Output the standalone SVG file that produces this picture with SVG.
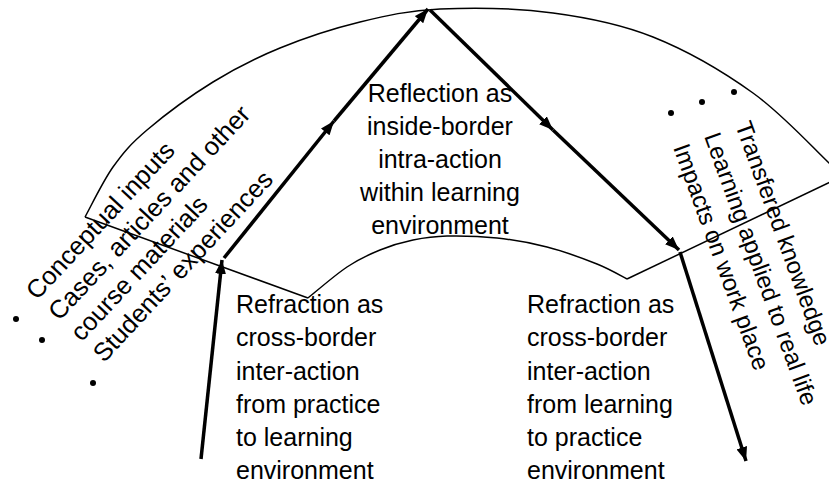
<svg xmlns="http://www.w3.org/2000/svg" width="829" height="484" viewBox="0 0 829 484">
  <style>
    .shape { fill: none; stroke: #000; stroke-width: 1.5; stroke-linejoin: miter; }
    .arrow { fill: none; stroke: #000; stroke-width: 3.5; stroke-linecap: butt; marker-end: url(#head); }
    .t { font-family: "Liberation Sans", Arial, sans-serif; font-size: 25px; fill: #000; }
    .r { font-family: "Liberation Sans", Arial, sans-serif; font-size: 25.5px; fill: #000; }
    .q { font-family: "Liberation Sans", Arial, sans-serif; font-size: 24px; fill: #000; }
    .dot { fill: #000; }
  </style>
  <defs>
    <marker id="head" markerUnits="userSpaceOnUse" markerWidth="15" markerHeight="11" refX="14" refY="5.5" orient="auto">
      <path d="M0,0 L14,5.5 L0,11 Z" fill="#000"/>
    </marker>
  </defs>
  <rect width="829" height="484" fill="#fff"/>

  <g id="arch">
    <path class="shape" d="M85,217 C89.7,208.7 102.7,181.5 113,167 C123.3,152.5 130.3,144.2 147,130 C163.7,115.8 190.8,95.7 213,82 C235.2,68.3 255.5,58 280,48 C304.5,38 333.3,28.5 360,22 C386.7,15.5 407.8,10.5 440,9 C472.2,7.5 517.5,8.3 553,13 C588.5,17.7 619.7,23.7 653,37 C686.3,50.3 723.7,72 753,93 C782.3,114 812.8,147.7 829,163 L843,176"/>
    <path class="shape" d="M308,298 C314.5,292.8 335,275 347,267 C359,259 369,254.5 380,250 C391,245.5 401.8,242.3 413,240 C424.2,237.7 433,236.3 447,236 C461,235.7 480.3,236.2 497,238 C513.7,239.8 530.3,242.7 547,247 C563.7,251.3 583.7,258.7 597,264 C610.3,269.3 622,276.5 627,279"/>
    <path class="shape" d="M85,217 L308,298"/>
    <path class="shape" d="M627,279 L843,176"/>
  </g>

  <g id="inputs-list">
    <circle class="dot" cx="16" cy="319" r="3"/>
    <circle class="dot" cx="42" cy="340" r="3"/>
    <circle class="dot" cx="93" cy="383" r="3"/>
    <g transform="translate(37,301) rotate(-47)">
      <text class="r" x="0" y="0">Conceptual inputs</text>
      <text class="r" x="0" y="30.5">Cases, articles and other</text>
      <text class="r" x="0" y="61">course materials</text>
      <text class="r" x="0" y="91.5">Students’ experiences</text>
    </g>
  </g>

  <g id="outputs-list">
    <circle class="dot" cx="734" cy="92" r="3"/>
    <circle class="dot" cx="702" cy="102" r="3"/>
    <circle class="dot" cx="671" cy="113" r="3"/>
    <g transform="translate(735,125) rotate(70)">
      <text class="q" x="0" y="0">Transfered knowledge</text>
      <text class="q" x="0" y="33">Learning applied to real life</text>
      <text class="q" x="0" y="66">Impacts on work place</text>
    </g>
  </g>

  <g id="reflection-label">
    <text class="t" text-anchor="middle" x="440" y="102">Reflection as</text>
    <text class="t" text-anchor="middle" x="440" y="135">inside-border</text>
    <text class="t" text-anchor="middle" x="440" y="168">intra-action</text>
    <text class="t" text-anchor="middle" x="440" y="201">within learning</text>
    <text class="t" text-anchor="middle" x="440" y="233.5">environment</text>
  </g>

  <g id="refraction-in-label">
    <text class="t" x="236" y="313">Refraction as</text>
    <text class="t" x="236" y="346">cross-border</text>
    <text class="t" x="236" y="379.5">inter-action</text>
    <text class="t" x="236" y="413">from practice</text>
    <text class="t" x="236" y="446">to learning</text>
    <text class="t" x="236" y="479">environment</text>
  </g>

  <g id="refraction-out-label">
    <text class="t" x="527" y="313">Refraction as</text>
    <text class="t" x="527" y="346">cross-border</text>
    <text class="t" x="527" y="379.5">inter-action</text>
    <text class="t" x="527" y="413">from learning</text>
    <text class="t" x="527" y="446">to practice</text>
    <text class="t" x="527" y="479">environment</text>
  </g>

  <g id="connectors">
    <path class="arrow" d="M201,459 L222,260"/>
    <path class="arrow" d="M224,258 L334,121"/>
    <path class="arrow" d="M334,121 L428,9"/>
    <path class="arrow" d="M430,10 L553,130"/>
    <path class="arrow" d="M553,130 L679,250"/>
    <path class="arrow" d="M680,252 L746,461"/>
  </g>
</svg>
